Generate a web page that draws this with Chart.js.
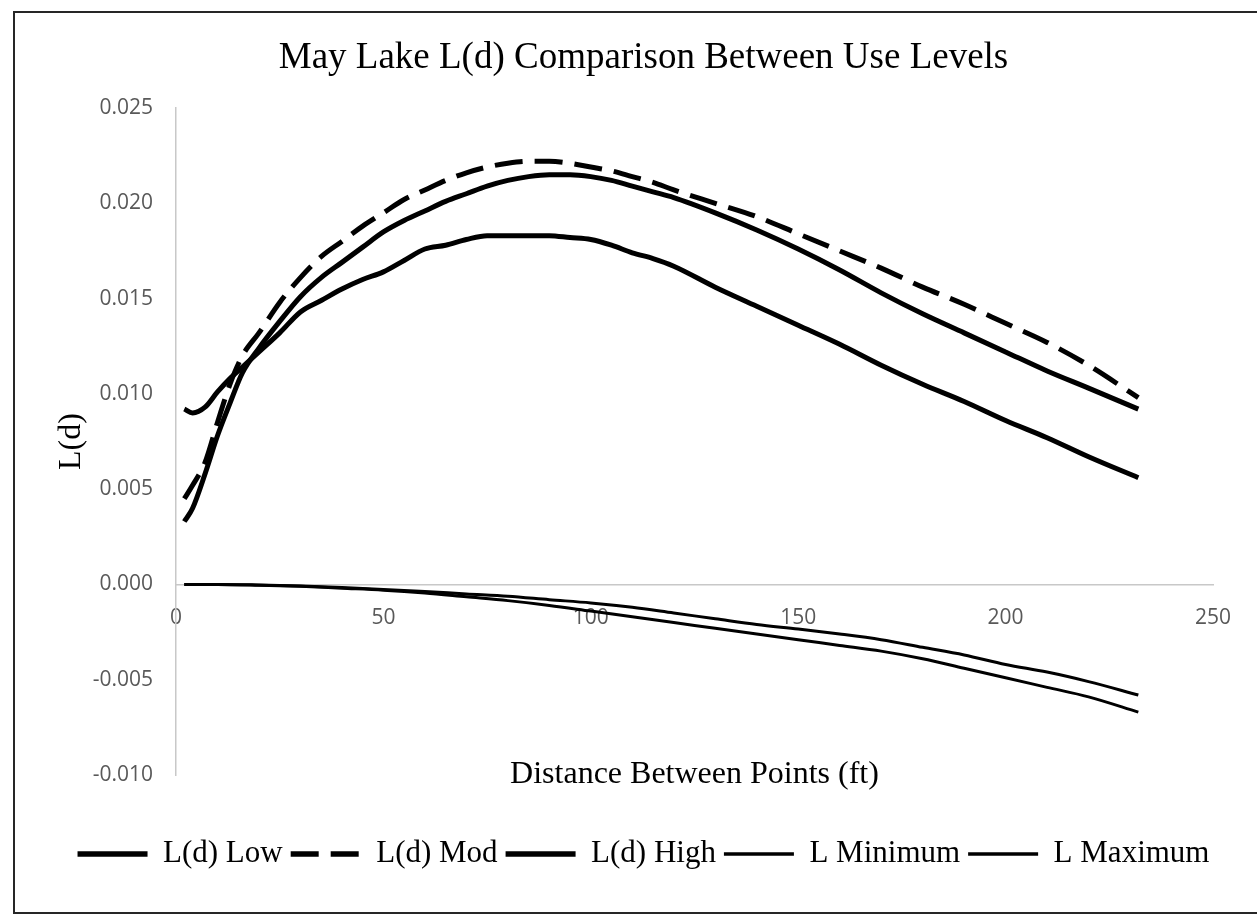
<!DOCTYPE html>
<html lang="en">
<head>
    <meta charset="UTF-8">
    <title>May Lake L(d) Comparison Between Use Levels</title>
    <script src="https://cdn.jsdelivr.net/npm/chart.js"></script>
    <style>
        body { margin: 0; background: #fff; }
        .wrap { position: absolute; left: 0; top: 0; width: 1257px; height: 920px; }
        .frame { position: absolute; left: 13px; top: 11px; width: 1260px; height: 899px;
                 border: 2px solid #262626; pointer-events: none; }
    </style>
</head>
<body>
    <div class="wrap">
        <canvas id="ldChart" width="1257" height="920"></canvas>
    </div>
    <div class="frame"></div>

    <script>
        // distances (ft) for the L(d) curves
        var dist = [2, 4, 7, 10, 13, 16, 20, 25, 30, 35, 40, 45, 50, 55, 60, 65, 70, 75, 80, 85, 90,
                    95, 100, 105, 110, 115, 120, 130, 140, 150, 160, 170, 180, 190, 200, 210, 220, 232];

        var ldLow = [0.0092, 0.0090, 0.0093, 0.0101, 0.0108, 0.0114, 0.0122, 0.0132, 0.0143, 0.0149, 0.0155,
                     0.0160, 0.0164, 0.0170, 0.0176, 0.0178, 0.0181, 0.0183, 0.0183, 0.0183, 0.0183,
                     0.0182, 0.0181, 0.0178, 0.0174, 0.0171, 0.0167, 0.0156, 0.0146, 0.0136, 0.0126,
                     0.0115, 0.0105, 0.0096, 0.0086, 0.0077, 0.0067, 0.0056];

        var ldMod = [0.0045, 0.0052, 0.0064, 0.0085, 0.0105, 0.0120, 0.0132, 0.0148, 0.0161, 0.0172, 0.0180,
                     0.0188, 0.0195, 0.0202, 0.0207, 0.0212, 0.0216, 0.0219, 0.0221, 0.0222, 0.0222,
                     0.0221, 0.0219, 0.0217, 0.0214, 0.0211, 0.0207, 0.0200, 0.0193, 0.0184, 0.0175,
                     0.0166, 0.0156, 0.0147, 0.0137, 0.0127, 0.0115, 0.0098];

        var ldHigh = [0.0033, 0.0040, 0.0058, 0.0078, 0.0095, 0.0111, 0.0124, 0.0138, 0.0151, 0.0161, 0.0169,
                      0.0177, 0.0185, 0.0191, 0.0196, 0.0201, 0.0205, 0.0209, 0.0212, 0.0214, 0.0215,
                      0.0215, 0.0214, 0.0212, 0.0209, 0.0206, 0.0203, 0.0195, 0.0186, 0.0176, 0.0165,
                      0.0153, 0.0142, 0.0132, 0.0122, 0.0112, 0.0103, 0.0092];

        // envelope (CSR bounds)
        var envDist = [2, 10, 20, 30, 40, 50, 60, 70, 80, 90, 100, 110, 120, 130, 140, 150, 160, 170,
                       180, 190, 200, 210, 220, 232];
        var lMin = [0, 0, -0.00004, -0.0001, -0.0002, -0.0003, -0.00045, -0.00065, -0.00085, -0.0011,
                    -0.0014, -0.0017, -0.0020, -0.0023, -0.0026, -0.0029, -0.0032, -0.0035, -0.0039,
                    -0.0044, -0.0049, -0.0054, -0.0059, -0.0067];
        var lMax = [0, 0, -0.00003, -0.00008, -0.00016, -0.00026, -0.00037, -0.0005, -0.00062, -0.0008,
                    -0.00097, -0.0012, -0.0015, -0.0018, -0.0021, -0.00234, -0.0026, -0.0029, -0.0033,
                    -0.0037, -0.0042, -0.0046, -0.0051, -0.0058];

        var seriesNames = ['L(d) Low', 'L(d) Mod', 'L(d) High', 'L Minimum', 'L Maximum'];
        var yTicks = { min: -0.010, max: 0.025, step: 0.005 };
        var xTicks = { min: 0, max: 250, step: 50 };

        function pts(xs, ys) {
            return xs.map(function (x, i) { return { x: x, y: ys[i] }; });
        }

        function line(label, xs, ys, width, dash) {
            return {
                label: label,
                data: pts(xs, ys),
                borderColor: '#000',
                backgroundColor: '#000',
                borderWidth: width,
                borderDash: dash || [],
                borderCapStyle: 'butt',
                pointRadius: 0,
                cubicInterpolationMode: 'monotone',
                fill: false
            };
        }

        var serif = 'Liberation Serif';
        var ctx = document.getElementById('ldChart').getContext('2d');
        var ldChart = new Chart(ctx, {
            type: 'line',
            data: {
                datasets: [
                    line(seriesNames[0], dist, ldLow, 5),
                    line(seriesNames[1], dist, ldMod, 5, [28, 12]),
                    line(seriesNames[2], dist, ldHigh, 5),
                    line(seriesNames[3], envDist, lMin, 3),
                    line(seriesNames[4], envDist, lMax, 3)
                ]
            },
            options: {
                responsive: false,
                animation: false,
                layout: { padding: { left: 30, right: 0, top: 10, bottom: 40.5 } },
                plugins: {
                    title: {
                        display: true,
                        text: 'May Lake L(d) Comparison Between Use Levels',
                        color: '#000',
                        font: { family: serif, size: 37, weight: 'normal' },
                        padding: { top: 25.8, bottom: 27.8 }
                    },
                    legend: {
                        position: 'bottom',
                        labels: {
                            color: '#000',
                            font: { family: serif, size: 31 },
                            usePointStyle: true,
                            pointStyle: 'line',
                            pointStyleWidth: 70,
                            padding: 8,
                            generateLabels: function (chart) {
                                var items = Chart.defaults.plugins.legend.labels.generateLabels(chart);
                                items.forEach(function (it) {
                                    var ds = chart.data.datasets[it.datasetIndex];
                                    it.lineDash = ds.borderDash;
                                    it.lineWidth = ds.borderWidth + 0.5;
                                    it.strokeStyle = '#000';
                                });
                                return items;
                            }
                        }
                    },
                    tooltip: { enabled: false }
                },
                scales: {
                    x: {
                        type: 'linear',
                        position: { y: 0 },
                        min: xTicks.min,
                        max: xTicks.max,
                        grid: { display: false },
                        border: { display: true, color: '#c8c8c8', width: 1.5 },
                        ticks: {
                            stepSize: xTicks.step,
                            color: '#595959',
                            font: { family: 'Open Sans', size: 21 },
                            padding: 13,
                            maxRotation: 0
                        },
                        title: {
                            display: true,
                            text: 'Distance Between Points (ft)',
                            color: '#000',
                            font: { family: serif, size: 32 },
                            padding: { top: 111.6, bottom: 0 }
                        }
                    },
                    xb: {
                        type: 'linear',
                        axis: 'x',
                        position: 'bottom',
                        grid: { display: false },
                        border: { display: false },
                        ticks: { display: false },
                        afterFit: function (s) { s.height = 55.5; }
                    },
                    y: {
                        type: 'linear',
                        position: 'left',
                        min: yTicks.min,
                        max: yTicks.max,
                        grid: { display: false },
                        border: { display: true, color: '#c8c8c8', width: 1.5 },
                        ticks: {
                            stepSize: yTicks.step,
                            color: '#595959',
                            font: { family: 'Open Sans', size: 21 },
                            padding: 15,
                            callback: function (v) { return Number(v).toFixed(3); }
                        },
                        title: {
                            display: true,
                            text: 'L(d)',
                            color: '#000',
                            font: { family: serif, size: 32 },
                            padding: { top: 22, bottom: 0 }
                        },
                        afterFit: function (s) { s.width = 146; }
                    },
                    yr: {
                        type: 'linear',
                        axis: 'y',
                        position: 'right',
                        grid: { display: false },
                        border: { display: false },
                        ticks: { display: false },
                        afterFit: function (s) { s.width = 44; }
                    }
                }
            }
        });
    </script>
</body>
</html>
